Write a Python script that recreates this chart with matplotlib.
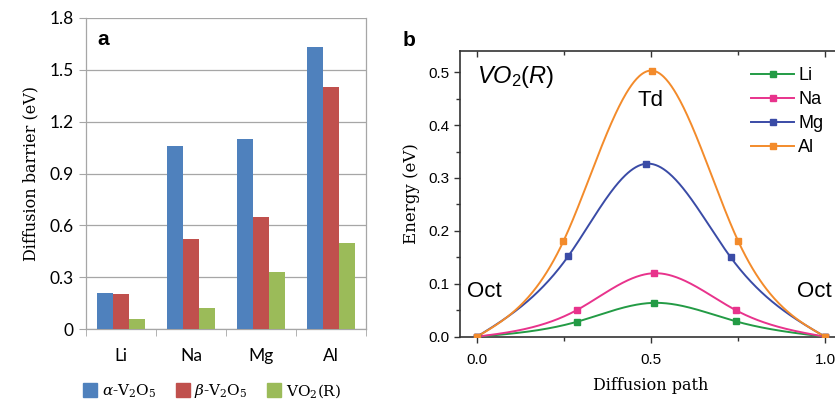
import numpy as np
import matplotlib
matplotlib.use("Agg")
import matplotlib.pyplot as plt
from matplotlib.ticker import MultipleLocator, FixedLocator
from matplotlib.lines import Line2D

# ---------------- data ----------------
ions = ["Li", "Na", "Mg", "Al"]
alpha_v2o5 = [0.21, 1.06, 1.10, 1.63]
beta_v2o5 = [0.20, 0.52, 0.65, 1.40]
vo2_r = [0.06, 0.12, 0.33, 0.50]
bar_labels = [r"$\mathit{\alpha}$-V$_2$O$_5$", r"$\mathit{\beta}$-V$_2$O$_5$", r"VO$_2$(R)"]

path_li = [0.0, 0.286, 0.51, 0.744, 1.0]
energy_li = [0.0, 0.028, 0.064, 0.029, 0.0]
path_na = [0.0, 0.286, 0.51, 0.744, 1.0]
energy_na = [0.0, 0.050, 0.120, 0.050, 0.0]
path_mg = [0.0, 0.262, 0.486, 0.729, 1.0]
energy_mg = [0.0, 0.152, 0.327, 0.150, 0.0]
path_al = [0.0, 0.248, 0.502, 0.751, 1.0]
energy_al = [0.0, 0.180, 0.503, 0.180, 0.0]
line_labels = ["Li", "Na", "Mg", "Al"]

bar_colors = ["#4F81BD", "#C0504D", "#9BBB59"]
line_colors = ["#239B45", "#E8338C", "#3A4BA6", "#F38B2B"]

plt.rcParams["mathtext.fontset"] = "dejavuserif"


def natural_spline(x, y, xs):
    x = np.asarray(x, float)
    y = np.asarray(y, float)
    n = len(x)
    h = np.diff(x)
    A = np.zeros((n, n))
    b = np.zeros(n)
    A[0, 0] = 1
    A[-1, -1] = 1
    for i in range(1, n - 1):
        A[i, i - 1] = h[i - 1]
        A[i, i] = 2 * (h[i - 1] + h[i])
        A[i, i + 1] = h[i]
        b[i] = 6 * ((y[i + 1] - y[i]) / h[i] - (y[i] - y[i - 1]) / h[i - 1])
    M = np.linalg.solve(A, b)
    out = np.empty_like(xs)
    for k, xv in enumerate(xs):
        i = min(max(np.searchsorted(x, xv) - 1, 0), n - 2)
        t1 = x[i + 1] - xv
        t0 = xv - x[i]
        out[k] = (M[i] * t1 ** 3 / (6 * h[i]) + M[i + 1] * t0 ** 3 / (6 * h[i])
                  + (y[i] / h[i] - M[i] * h[i] / 6) * t1
                  + (y[i + 1] / h[i] - M[i + 1] * h[i] / 6) * t0)
    return out


fig = plt.figure(figsize=(8.35, 4.0), dpi=100)

# ---------------- panel a ----------------
ax1 = fig.add_axes([86 / 835, 71 / 400, 280 / 835, 311 / 400])
xpos = np.arange(len(ions))
w = 0.225
for j, (vals, col) in enumerate(zip([alpha_v2o5, beta_v2o5, vo2_r], bar_colors)):
    ax1.bar(xpos + (j - 1) * w, vals, width=w, color=col, zorder=3, label=bar_labels[j])
ax1.set_xlim(-0.5, len(ions) - 0.5)
ax1.set_ylim(0, 1.8)
ax1.yaxis.set_major_locator(FixedLocator([0, 0.3, 0.6, 0.9, 1.2, 1.5, 1.8]))
ax1.set_yticklabels(["0", "0.3", "0.6", "0.9", "1.2", "1.5", "1.8"])
ax1.grid(axis="y", color="#A6A6A6", linewidth=0.9, zorder=0)
ax1.set_xticks(xpos)
ax1.set_xticklabels(ions)
ax1.xaxis.set_minor_locator(FixedLocator(np.arange(-0.5, len(ions), 1.0)))
ax1.tick_params(axis="x", which="major", length=0, pad=14)
ax1.tick_params(axis="x", which="minor", length=5, color="#A6A6A6", direction="out")
ax1.tick_params(axis="y", length=5, color="#A6A6A6", direction="out", pad=4)
for lab in ax1.get_xticklabels() + ax1.get_yticklabels():
    lab.set_fontfamily("Lato")
    lab.set_fontsize(12.5)
for s in ["left", "bottom", "right"]:
    ax1.spines[s].set_color("#A6A6A6")
    ax1.spines[s].set_linewidth(0.9)
ax1.spines["top"].set_visible(False)
ax1.set_ylabel("Diffusion barrier (eV)", family="DejaVu Serif", fontsize=11.5, labelpad=7)
ax1.text(0.04, 0.93, "a", transform=ax1.transAxes, fontsize=15, fontweight="bold",
         family="Liberation Sans", va="center", ha="left")

handles = [Line2D([], [], marker="s", linestyle="none", markersize=9.5,
                  markerfacecolor=c, markeredgecolor=c) for c in bar_colors]
fig.legend(handles, bar_labels, loc="center", bbox_to_anchor=(212 / 835, 1 - 391 / 400),
           ncol=3, frameon=False, handlelength=0.9, handletextpad=0.3, columnspacing=1.3,
           prop={"family": "DejaVu Serif", "size": 11})

# ---------------- panel b ----------------
ax2 = fig.add_axes([459.6 / 835, 63.3 / 400, 382.8 / 835, 285.7 / 400])
xs = np.linspace(0, 1, 400)
paths = [path_li, path_na, path_mg, path_al]
energies = [energy_li, energy_na, energy_mg, energy_al]
for px, ey, col, lab in zip(paths, energies, line_colors, line_labels):
    ax2.plot(xs, natural_spline(px, ey, xs), color=col, linewidth=1.4, zorder=3)
    ax2.plot(px, ey, linestyle="none", marker="s", markersize=4.5, color=col, zorder=4)
ax2.set_xlim(-0.05, 1.05)
ax2.set_ylim(0, 0.54)
ax2.xaxis.set_major_locator(FixedLocator([0.0, 0.5, 1.0]))
ax2.xaxis.set_minor_locator(FixedLocator([0.25, 0.75]))
ax2.set_xticklabels(["0.0", "0.5", "1.0"])
ax2.yaxis.set_major_locator(MultipleLocator(0.1))
ax2.yaxis.set_minor_locator(MultipleLocator(0.05))
ax2.set_yticks([0.0, 0.1, 0.2, 0.3, 0.4, 0.5])
ax2.set_yticklabels(["0.0", "0.1", "0.2", "0.3", "0.4", "0.5"])
ax2.tick_params(axis="both", which="major", length=4, width=1, direction="out",
                labelsize=11, color="#333333")
ax2.tick_params(axis="both", which="minor", length=3, width=1, direction="out", color="#333333")
ax2.tick_params(axis="x", which="both", top=True, labeltop=False)
ax2.tick_params(axis="x", which="major", pad=8)
for lab in ax2.get_xticklabels() + ax2.get_yticklabels():
    lab.set_fontfamily("Liberation Sans")
for s in ax2.spines.values():
    s.set_color("#333333")
    s.set_linewidth(1.2)
# top ticks pointing inward
for t in ax2.xaxis.get_major_ticks() + ax2.xaxis.get_minor_ticks():
    t.tick2line.set_marker(3)
ax2.set_xlabel("Diffusion path", family="DejaVu Serif", fontsize=11.5, labelpad=7)
ax2.set_ylabel("Energy (eV)", family="DejaVu Serif", fontsize=12, labelpad=6)

plt.rcParams["mathtext.fontset"] = "custom"
plt.rcParams["mathtext.it"] = "Liberation Sans:italic"
plt.rcParams["mathtext.rm"] = "Liberation Sans"
ax2.text(0.0, 0.49, r"$\mathit{VO_2(R)}$", fontsize=17, family="Liberation Sans",
         ha="left", va="center", style="italic")
ax2.text(0.5, 0.447, "Td", fontsize=16, family="Liberation Sans", ha="center", va="center")
ax2.text(-0.03, 0.085, "Oct", fontsize=16, family="Liberation Sans", ha="left", va="center")
ax2.text(0.92, 0.085, "Oct", fontsize=16, family="Liberation Sans", ha="left", va="center")

lh = [Line2D([], [], color=c, linewidth=1.4, marker="s", markersize=4.5) for c in line_colors]
ax2.legend(lh, line_labels, loc="upper left", bbox_to_anchor=(0.72, 1.0), frameon=False,
           handlelength=2.35, handletextpad=0.25, labelspacing=0.38,
           prop={"family": "Liberation Sans", "size": 13})

fig.text(403 / 835, 1 - 40 / 400, "b", fontsize=15, fontweight="bold",
         family="Liberation Sans", va="center", ha="left")

fig.savefig("out.png", dpi=100)
